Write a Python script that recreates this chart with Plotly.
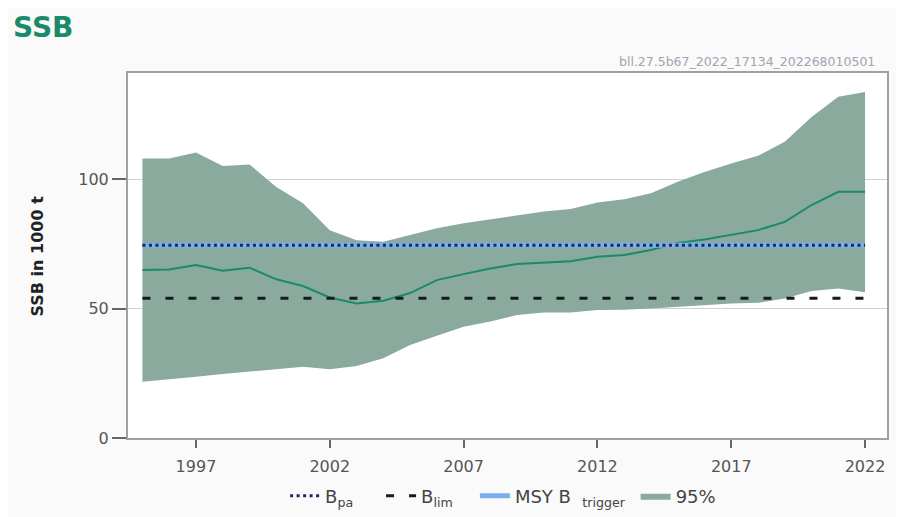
import plotly.graph_objects as go

years = list(range(1995, 2023))
ssb = [64.9, 65.1, 66.8, 64.6, 65.8, 61.3, 58.7, 54.3, 52.0, 53.0, 56.0, 61.0, 63.3, 65.5,
       67.2, 67.7, 68.3, 70.0, 70.7, 72.6, 75.3, 76.7, 78.4, 80.3, 83.5, 90.0, 95.1, 95.1]
upper = [108.0, 108.0, 110.3, 105.1, 105.7, 97.0, 90.7, 80.3, 76.4, 75.8, 78.4, 81.0, 83.0, 84.5,
         86.0, 87.5, 88.5, 91.0, 92.2, 94.5, 99.0, 102.8, 106.0, 109.0, 114.4, 124.0, 131.8, 133.7]
lower = [21.7, 22.8, 23.7, 24.7, 25.6, 26.6, 27.5, 26.6, 27.8, 30.8, 35.9, 39.5, 43.0, 45.0,
         47.5, 48.5, 48.5, 49.4, 49.5, 50.0, 50.7, 51.5, 52.0, 52.2, 53.9, 56.8, 57.8, 56.3]
bpa_value = 74.5
blim_value = 54.0
msy_btrigger_value = 74.5
x_ticks = [1997, 2002, 2007, 2012, 2017, 2022]
y_ticks = [0, 50, 100]

FONT = "DejaVu Sans, Verdana, sans-serif"
NB = "&nbsp;"

fig = go.Figure()
fig.add_trace(go.Scatter(x=years, y=lower, mode="lines", line=dict(width=0, color="#8aaa9e"),
                         showlegend=False, hoverinfo="skip"))
fig.add_trace(go.Scatter(x=years, y=upper, mode="lines", line=dict(width=0, color="#8aaa9e"),
                         fill="tonexty", fillcolor="#8aaa9e", name="95%", legendrank=4))
fig.add_trace(go.Scatter(x=years, y=ssb, mode="lines", line=dict(color="#1b8a6b", width=2),
                         name="SSB", showlegend=False))
fig.add_trace(go.Scatter(x=[years[0], years[-1]], y=[msy_btrigger_value] * 2, mode="lines",
                         line=dict(color="#79aef0", width=5),
                         name="MSY B" + NB * 2 + "<sub>trigger</sub>" + NB, legendrank=3))
fig.add_trace(go.Scatter(x=[years[0], years[-1]], y=[blim_value] * 2, mode="lines",
                         line=dict(color="#1a1a1a", width=3, dash="8px,15px"),
                         name="B<sub>lim</sub>" + NB * 3, legendrank=2))
fig.add_trace(go.Scatter(x=[years[0], years[-1]], y=[bpa_value] * 2, mode="lines",
                         line=dict(color="#1c2a55", width=3, dash="3px,3.5px"),
                         name="B<sub>pa</sub>" + NB * 4, legendrank=1))

W, H = 896, 509
fig.update_layout(
    width=W, height=H,
    margin=dict(l=120, r=17, t=65, b=79, autoexpand=False),
    paper_bgcolor="#fafafa", plot_bgcolor="white",
    font=dict(family=FONT, color="#555555"),
    title=dict(text="<b>SSB</b>", x=5 / W, xref="container", xanchor="left",
               y=1 - 19 / H, yref="container", yanchor="middle",
               font=dict(size=28, color="#1b8a6b", family=FONT)),
    showlegend=True,
    legend=dict(orientation="h", x=0.207, xanchor="left", y=-0.159, yanchor="middle",
                font=dict(size=18, color="#444444", family=FONT), bgcolor="rgba(0,0,0,0)",
                traceorder="normal"),
    xaxis=dict(range=[1994.46, 2022.82], tickvals=x_ticks, showgrid=False, zeroline=False,
               showline=True, linecolor="#a0a0a0", linewidth=2, mirror=True,
               ticks="outside", ticklen=8, tickcolor="#666666", tickwidth=1.5,
               ticklabelstandoff=5,
               tickfont=dict(size=16, color="#555555", family=FONT)),
    yaxis=dict(range=[0, 141], tickvals=y_ticks, showgrid=True, gridcolor="#d0d0d0",
               gridwidth=1, zeroline=False,
               showline=True, linecolor="#a0a0a0", linewidth=2, mirror=True,
               ticks="outside", ticklen=14, tickcolor="#666666", tickwidth=1.5,
               tickfont=dict(size=16, color="#555555", family=FONT)),
    annotations=[
        dict(text="<b>SSB in 1000 t</b>", xref="paper", yref="paper", x=-0.1186, y=0.5,
             textangle=-90, showarrow=False, xanchor="center", yanchor="middle",
             font=dict(size=16, color="#222222", family=FONT)),
        dict(text="bll.27.5b67_2022_17134_202268010501", xref="paper", yref="paper",
             x=1, xshift=-10, y=1, yshift=12, xanchor="right", yanchor="middle",
             showarrow=False, font=dict(size=12.5, color="#a0a5b2", family=FONT)),
    ],
)

fig.write_html("out.html")
